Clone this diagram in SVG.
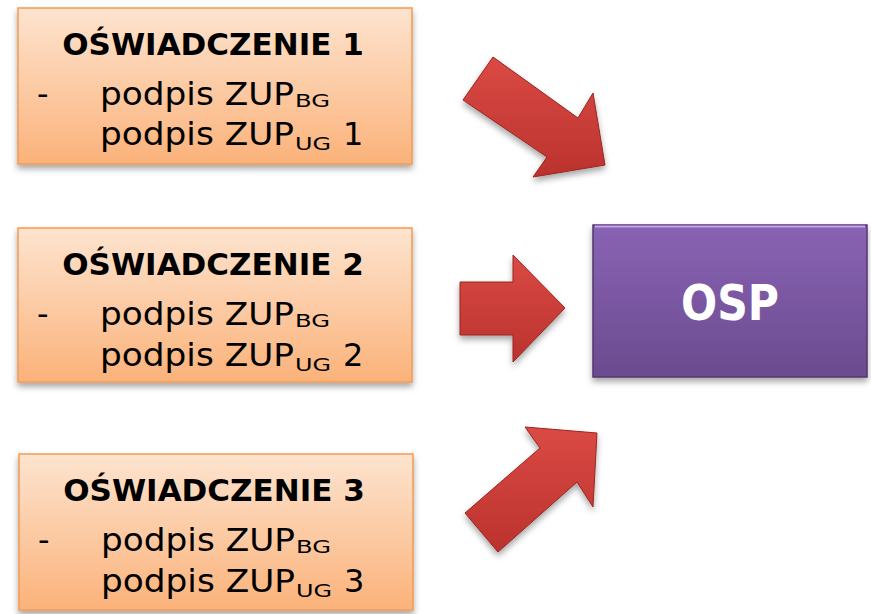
<svg xmlns="http://www.w3.org/2000/svg" width="871" height="614" viewBox="0 0 871 614">
<defs>
<linearGradient id="gBox" x1="0" y1="0" x2="0" y2="1">
<stop offset="0" stop-color="#fde4cf"/>
<stop offset="1" stop-color="#fbb27a"/>
</linearGradient>
<linearGradient id="gOsp" x1="0" y1="0" x2="0" y2="1">
<stop offset="0" stop-color="#8963b4"/>
<stop offset="1" stop-color="#6b4b8f"/>
</linearGradient>
<linearGradient id="gArr" x1="0" y1="0" x2="0" y2="1">
<stop offset="0" stop-color="#da4a44"/>
<stop offset="1" stop-color="#bb322d"/>
</linearGradient>
<filter id="sh" x="-10%" y="-10%" width="125%" height="130%">
<feDropShadow dx="0" dy="4" stdDeviation="3" flood-color="#000" flood-opacity="0.35"/>
</filter>
</defs>
<style>
.box{fill:url(#gBox);stroke:#f39a52;stroke-width:1.5;filter:url(#sh)}
.osp{fill:url(#gOsp);stroke:#52366f;stroke-width:1.5;filter:url(#sh)}
.arr{fill:url(#gArr);stroke:#9a2521;stroke-width:1;stroke-linejoin:round;filter:url(#sh)}
.t{font-family:"DejaVu Sans","Liberation Sans",sans-serif;fill:#000}
.title{font-weight:bold;font-size:31px;text-anchor:middle}
.line{font-size:32px}
.sub{font-size:17px}
.ospt{font-family:"DejaVu Sans","Liberation Sans",sans-serif;font-weight:bold;font-size:50px;fill:#fff;text-anchor:middle}
</style>
<g id="connectors">
<polygon class="arr" points="493,57 578,118 593,93 605,165 533,177 547,157 463,100"/>
<polygon class="arr" points="460,282 513,282 513,255 565,308 513,362 513,335 460,335"/>
<polygon class="arr" points="465,513 540,448 525,427 597,433 593,507 577,482 498,552"/>
</g>
<g id="box1">
<rect class="box" x="18" y="8" width="394" height="156"/>
<text class="t title" x="213" y="55">OŚWIADCZENIE 1</text>
<text class="t line" x="37" y="105">-</text>
<text class="t line" x="100" y="105" textLength="194" lengthAdjust="spacingAndGlyphs">podpis ZUP</text>
<text class="t sub" x="295" y="107" textLength="35" lengthAdjust="spacingAndGlyphs">BG</text>
<text class="t line" x="100" y="145" textLength="194" lengthAdjust="spacingAndGlyphs">podpis ZUP</text>
<text class="t sub" x="295" y="150" textLength="36" lengthAdjust="spacingAndGlyphs">UG</text>
<text class="t line" x="343" y="145">1</text>
</g>
<g id="box2">
<rect class="box" x="18" y="228" width="394" height="154"/>
<text class="t title" x="213" y="275">OŚWIADCZENIE 2</text>
<text class="t line" x="37" y="325">-</text>
<text class="t line" x="100" y="325" textLength="194" lengthAdjust="spacingAndGlyphs">podpis ZUP</text>
<text class="t sub" x="295" y="327" textLength="35" lengthAdjust="spacingAndGlyphs">BG</text>
<text class="t line" x="100" y="366" textLength="194" lengthAdjust="spacingAndGlyphs">podpis ZUP</text>
<text class="t sub" x="295" y="371" textLength="36" lengthAdjust="spacingAndGlyphs">UG</text>
<text class="t line" x="343" y="366">2</text>
</g>
<g id="box3">
<rect class="box" x="19" y="454" width="394" height="156"/>
<text class="t title" x="214" y="501">OŚWIADCZENIE 3</text>
<text class="t line" x="38" y="551">-</text>
<text class="t line" x="101" y="551" textLength="194" lengthAdjust="spacingAndGlyphs">podpis ZUP</text>
<text class="t sub" x="296" y="553" textLength="35" lengthAdjust="spacingAndGlyphs">BG</text>
<text class="t line" x="101" y="592" textLength="194" lengthAdjust="spacingAndGlyphs">podpis ZUP</text>
<text class="t sub" x="296" y="597" textLength="36" lengthAdjust="spacingAndGlyphs">UG</text>
<text class="t line" x="344" y="592">3</text>
</g>
<g id="osp">
<rect class="osp" x="593" y="225" width="274" height="152"/>
<line x1="595" y1="226.5" x2="865" y2="226.5" stroke="#c6a2ec" stroke-width="2"/>
<text class="ospt" x="730" y="320" textLength="98" lengthAdjust="spacingAndGlyphs">OSP</text>
</g>
</svg>
